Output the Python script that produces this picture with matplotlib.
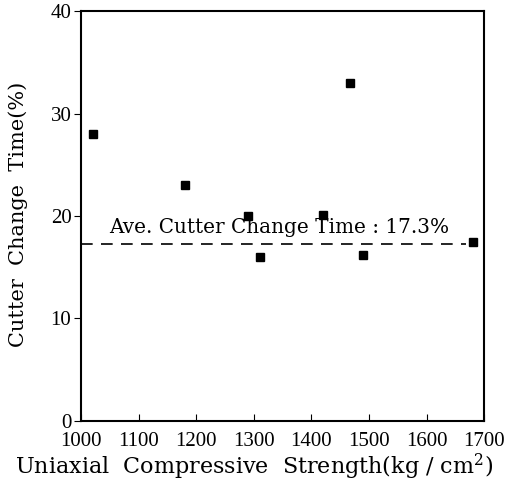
import matplotlib
matplotlib.use("Agg")
import matplotlib.pyplot as plt

strength = [1020, 1180, 1290, 1310, 1420, 1467, 1490, 1680]
change_time = [28.0, 23.0, 20.0, 16.0, 20.1, 33.0, 16.2, 17.5]
avg_time = 17.3
x_ticks = [1000, 1100, 1200, 1300, 1400, 1500, 1600, 1700]
y_ticks = [0, 10, 20, 30, 40]

plt.rcParams['font.family'] = ['Liberation Serif', 'DejaVu Serif']
plt.rcParams['mathtext.fontset'] = 'dejavuserif'

fig = plt.figure(figsize=(5.07, 4.82), dpi=100)
ax = fig.add_axes([0.16, 0.127, 0.795, 0.85])

ax.plot(strength, change_time, 's', color='black', ms=6)
ax.plot([1000, 1668], [avg_time, avg_time], color='black', lw=1.2, dashes=(7, 5))
ax.text(1048, avg_time + 0.6, 'Ave. Cutter Change Time : 17.3%', fontsize=14.4,
        family='DejaVu Serif', va='bottom', ha='left')

ax.set_xlim(1000, 1700)
ax.set_ylim(0, 40)
ax.set_xticks(x_ticks)
ax.set_yticks(y_ticks)
ax.tick_params(axis='x', direction='in', length=5, labelsize=15, pad=8)
ax.tick_params(axis='y', direction='out', length=5, labelsize=15, pad=2)
for s in ax.spines.values():
    s.set_linewidth(1.5)

fig.text(0.03, 0.031, 'Uniaxial  Compressive  Strength(kg / cm$^2$)', fontsize=16,
         family='DejaVu Serif', ha='left', va='center')
fig.text(0.036, 0.555, 'Cutter  Change  Time(%)', fontsize=15, family='DejaVu Serif',
         rotation=90, ha='center', va='center')

fig.savefig('out.png', dpi=100)
